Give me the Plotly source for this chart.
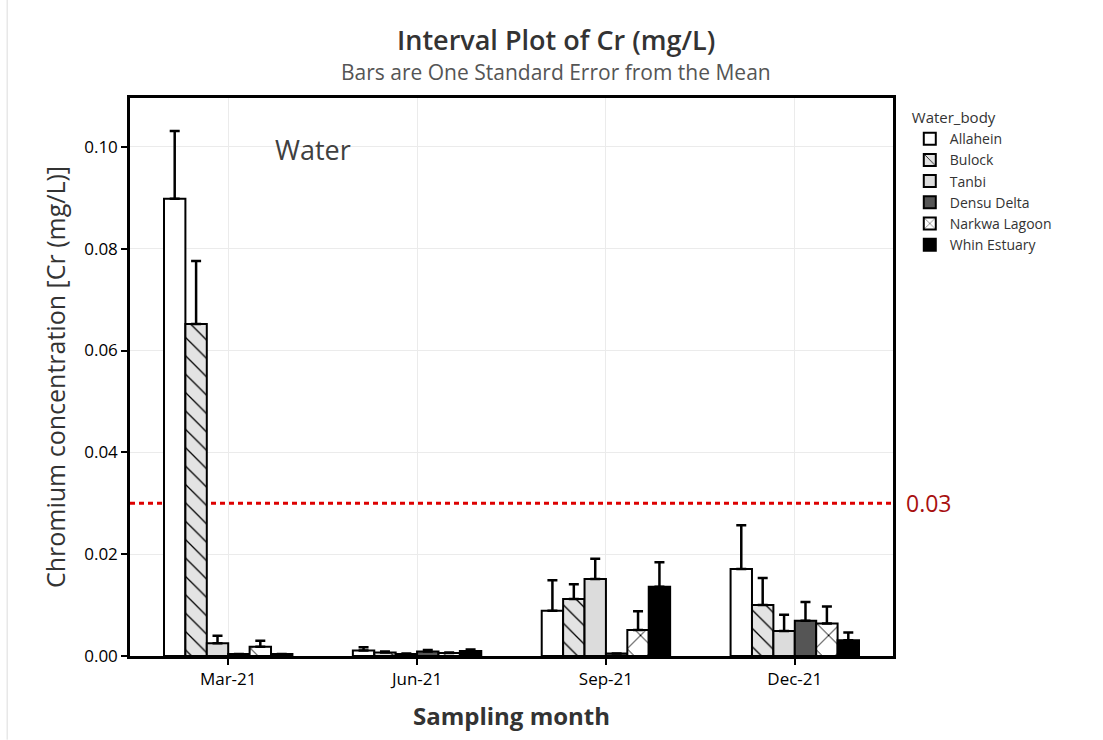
import plotly.graph_objects as go

months = ["Mar-21", "Jun-21", "Sep-21", "Dec-21"]
bodies = ["Allahein", "Bulock", "Tanbi", "Densu Delta", "Narkwa Lagoon", "Whin Estuary"]

# mean Cr (mg/L) per water body, in month order
allahein = [0.0898, 0.0011, 0.0089, 0.0171]
bulock = [0.0652, 0.0007, 0.0112, 0.0100]
tanbi = [0.0025, 0.0004, 0.0151, 0.0049]
densu = [0.0004, 0.0009, 0.0005, 0.0069]
narkwa = [0.0018, 0.0006, 0.0051, 0.0064]
whin = [0.0004, 0.0010, 0.0136, 0.0031]

# one standard error (upper whisker)
se_allahein = [0.0133, 0.0006, 0.0060, 0.0086]
se_bulock = [0.0124, 0.0002, 0.0029, 0.0053]
se_tanbi = [0.0015, 0.0001, 0.0040, 0.0032]
se_densu = [0.0000, 0.0003, 0.0000, 0.0037]
se_narkwa = [0.0012, 0.0001, 0.0037, 0.0033]
se_whin = [0.0000, 0.0003, 0.0048, 0.0015]

limit = 0.03

means = [allahein, bulock, tanbi, densu, narkwa, whin]
ses = [se_allahein, se_bulock, se_tanbi, se_densu, se_narkwa, se_whin]
fills = ["#ffffff", "#e3e3e3", "#dcdcdc", "#555555", "#ffffff", "#000000"]
shapes = ["", "\\", "", "", "x", ""]
psizes = [10, 13, 10, 10, 19, 10]

FONT = "Open Sans"

fig = go.Figure()
for name, m, s, fc, sh, ps in zip(bodies, means, ses, fills, shapes, psizes):
    pattern = dict(shape=sh, fgcolor="#000000", bgcolor=fc, size=ps, solidity=0.1, fillmode="replace") if sh else dict(shape="")
    fig.add_trace(go.Bar(
        name=name, x=months, y=m,
        marker=dict(color=fc, line=dict(color="#000000", width=2), pattern=pattern),
        error_y=dict(type="data", symmetric=False, array=s, arrayminus=[0] * len(s),
                     color="#000000", thickness=2.5, width=5),
    ))

fig.add_shape(type="line", xref="paper", yref="y", x0=0, x1=1, y0=limit, y1=limit,
              line=dict(color="#dd0000", width=3, dash="5px,4px"), layer="between")
fig.add_shape(type="line", xref="paper", yref="paper", x0=-0.161, x1=-0.161, y0=-0.15, y1=1.18,
              line=dict(color="#dddddd", width=1))

fig.add_annotation(x=1.014, y=limit, xref="paper", yref="y", text=str(limit), showarrow=False,
                   xanchor="left", yanchor="middle", font=dict(family=FONT, size=23, color="#a81010"))
fig.add_annotation(x=0.45, y=0.0994, xref="x", yref="y", text="Water", showarrow=False,
                   xanchor="center", yanchor="middle", font=dict(family=FONT, size=27, color="#404040"))
fig.add_annotation(x=0.558, y=1.104, xref="paper", yref="paper", text="Interval Plot of Cr (mg/L)",
                   showarrow=False, xanchor="center", yanchor="middle",
                   font=dict(family=FONT, size=27, color="#333333", weight=600))
fig.add_annotation(x=0.558, y=1.047, xref="paper", yref="paper", text="Bars are One Standard Error from the Mean",
                   showarrow=False, xanchor="center", yanchor="middle",
                   font=dict(family=FONT, size=21, color="#555555"))

fig.update_layout(
    width=1103, height=740,
    margin=dict(l=130, r=210, t=98, b=84),
    paper_bgcolor="white", plot_bgcolor="white",
    barmode="group", bargap=0.32, bargroupgap=0,
    font=dict(family=FONT, color="#222222"),
    showlegend=True,
    legend=dict(x=1.022, y=0.99, xanchor="left", yanchor="top",
                title=dict(text="Water_body", font=dict(size=15, color="#333333")),
                font=dict(size=14, color="#333333"), tracegroupgap=0,
                bgcolor="rgba(0,0,0,0)"),
)
fig.update_xaxes(
    range=[-0.52, 3.52], showline=True, linecolor="#000000", linewidth=2.5, mirror=True,
    ticks="outside", ticklen=6, tickwidth=1.5, tickcolor="#000000",
    showgrid=True, gridcolor="#ebebeb", gridwidth=1,
    tickfont=dict(family=FONT, size=17, color="#000000"),
    title=dict(text="<b>Sampling month</b>", font=dict(family=FONT, size=24, color="#333333"), standoff=20),
)
fig.update_yaxes(
    range=[0, 0.1096], showline=True, linecolor="#000000", linewidth=2.5, mirror=True,
    ticks="outside", ticklen=6, tickwidth=1.5, tickcolor="#000000",
    tickvals=[0, 0.02, 0.04, 0.06, 0.08, 0.10], tickformat=".2f",
    showgrid=True, gridcolor="#ebebeb", gridwidth=1, zeroline=False,
    tickfont=dict(family=FONT, size=17, color="#000000"),
    title=dict(text="Chromium concentration [Cr (mg/L)]", font=dict(family=FONT, size=25, color="#333333"), standoff=12),
)

fig.write_html("out.html")
